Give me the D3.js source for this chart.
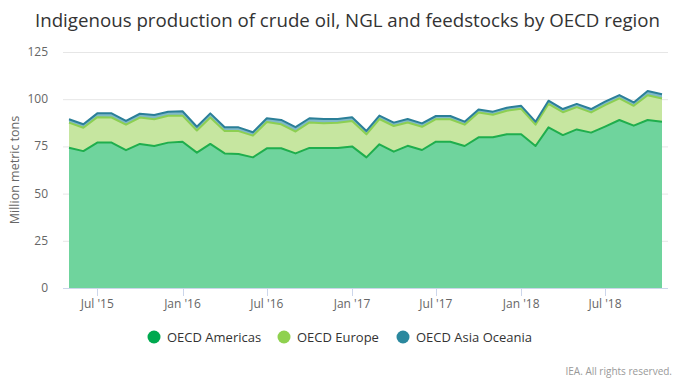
<!DOCTYPE html>
<html>
<head>
<meta charset="utf-8">
<script src="https://cdn.jsdelivr.net/npm/d3@7"></script>
<style>
  body { margin: 0; background: #fff; }
  svg { font-family: 'Open Sans', sans-serif; }
</style>
</head>
<body>
<svg width="680" height="380"></svg>
<script>
// monthly, May 2015 .. Nov 2018
const startMonth = new Date(2015, 4, 1);
const americas = [74.3, 72.5, 77, 77, 73, 76.3, 75.2, 77, 77.5, 71.7, 76.3, 71.3, 71, 69.2, 74, 74, 71.3, 74.2, 74.2, 74.2, 75, 69.2, 76.1, 72.2, 75.3, 73.1, 77.5, 77.5, 75.2, 79.8, 79.8, 81.4, 81.4, 75.2, 85.1, 81, 84, 82.3, 85.5, 89, 86, 89, 88];
const europe = [13.3, 12.4, 13.5, 13.3, 13.5, 14.0, 14.2, 14.2, 13.8, 11.7, 14.0, 11.8, 12.1, 11.5, 13.9, 12.7, 11.6, 13.5, 13.1, 13.3, 13.4, 12.2, 13.4, 13.6, 12.4, 12.3, 11.9, 11.9, 11.3, 13.2, 12.0, 12.5, 13.5, 11.3, 12.4, 12.1, 11.8, 10.7, 11.4, 11.4, 10.5, 13.1, 12.4];
const asiaOceania = [1.8, 1.8, 2.0, 2.2, 2.0, 2.0, 2.2, 2.2, 2.3, 2.0, 2.2, 2.0, 2.0, 1.8, 2.0, 2.3, 2.3, 2.2, 2.2, 2.0, 2.0, 1.8, 1.8, 1.8, 1.8, 1.8, 1.7, 1.7, 1.6, 1.6, 1.6, 1.6, 1.6, 1.6, 1.7, 1.7, 1.7, 1.8, 1.8, 1.8, 1.8, 2.2, 2.2];
const seriesNames = ['OECD Americas', 'OECD Europe', 'OECD Asia Oceania'];
const yTicks = [0, 25, 50, 75, 100, 125];
const xTickDates = [new Date(2015, 6, 1), new Date(2016, 0, 1), new Date(2016, 6, 1), new Date(2017, 0, 1), new Date(2017, 6, 1), new Date(2018, 0, 1), new Date(2018, 6, 1)];

const svg = d3.select('svg');

const lineColors = ['#1fae4d', '#8ccf52', '#2b7f98'];
const fillColors = ['#6fd49d', '#c6e6a0', '#7fb9c8'];
const dotColors = ['#00a94f', '#8fd14f', '#2b889e'];

const data = americas.map((v, i) => ({
  date: new Date(startMonth.getFullYear(), startMonth.getMonth() + i, 1),
  'OECD Americas': v,
  'OECD Europe': europe[i],
  'OECD Asia Oceania': asiaOceania[i]
}));

const plot = { left: 63, right: 668, top: 52, bottom: 288 };

const x = d3.scaleTime()
  .domain(d3.extent(data, d => d.date))
  .range([69, 662]);

const y = d3.scaleLinear()
  .domain([0, 125])
  .range([plot.bottom, plot.top]);

// title
svg.append('text')
  .attr('x', 35).attr('y', 27)
  .attr('font-size', 18.7)
  .attr('fill', '#333')
  .text('Indigenous production of crude oil, NGL and feedstocks by OECD region');

// grid
svg.append('g').selectAll('line').data(yTicks.filter(t => t > 0))
  .enter().append('line')
  .attr('x1', plot.left).attr('x2', plot.right)
  .attr('y1', d => y(d) + 0.5).attr('y2', d => y(d) + 0.5)
  .attr('stroke', '#e6e6e6');

// y labels
svg.append('g').selectAll('text').data(yTicks)
  .enter().append('text')
  .attr('x', 48).attr('y', d => y(d) + 4)
  .attr('text-anchor', 'end')
  .attr('font-size', 12)
  .attr('fill', '#666')
  .text(d => d);

svg.append('text')
  .attr('transform', 'translate(19,170) rotate(-90)')
  .attr('text-anchor', 'middle')
  .attr('font-size', 12.5)
  .attr('fill', '#666')
  .text('Million metric tons');

// stacked areas
const stack = d3.stack().keys(seriesNames);
const layers = stack(data);

const area = d3.area()
  .x(d => x(d.data.date))
  .y0(d => y(d[0]))
  .y1(d => y(d[1]));

const line = d3.line()
  .x(d => x(d.data.date))
  .y(d => y(d[1]));

svg.append('g').selectAll('path').data(layers)
  .enter().append('path')
  .attr('d', area)
  .attr('fill', (d, i) => fillColors[i]);

svg.append('g').selectAll('path').data(layers)
  .enter().append('path')
  .attr('d', line)
  .attr('fill', 'none')
  .attr('stroke', (d, i) => lineColors[i])
  .attr('stroke-width', 2)
  .attr('stroke-linejoin', 'round');

// x axis
svg.append('line')
  .attr('x1', plot.left).attr('x2', plot.right)
  .attr('y1', plot.bottom + 0.5).attr('y2', plot.bottom + 0.5)
  .attr('stroke', '#ccd6eb');

const xAxis = svg.append('g');
xAxis.selectAll('line').data(xTickDates)
  .enter().append('line')
  .attr('x1', d => Math.round(x(d)) + 0.5).attr('x2', d => Math.round(x(d)) + 0.5)
  .attr('y1', plot.bottom).attr('y2', plot.bottom + 8)
  .attr('stroke', '#ccd6eb');
xAxis.selectAll('text').data(xTickDates)
  .enter().append('text')
  .attr('x', d => x(d)).attr('y', 308)
  .attr('text-anchor', 'middle')
  .attr('font-size', 12)
  .attr('fill', '#666')
  .text(d => d3.timeFormat("%b '%y")(d));

// legend
const legendX = [154, 284, 403];
const legend = svg.append('g').selectAll('g').data(seriesNames)
  .enter().append('g')
  .attr('transform', (d, i) => `translate(${legendX[i]},337)`);
legend.append('circle').attr('r', 6.5).attr('fill', (d, i) => dotColors[i]);
legend.append('text')
  .attr('x', 13).attr('y', 4.5)
  .attr('font-size', 13)
  .attr('fill', '#333')
  .text(d => d);

svg.append('text')
  .attr('x', 672).attr('y', 375)
  .attr('text-anchor', 'end')
  .attr('font-size', 10)
  .attr('fill', '#999')
  .text('IEA. All rights reserved.');
</script>
</body>
</html>
